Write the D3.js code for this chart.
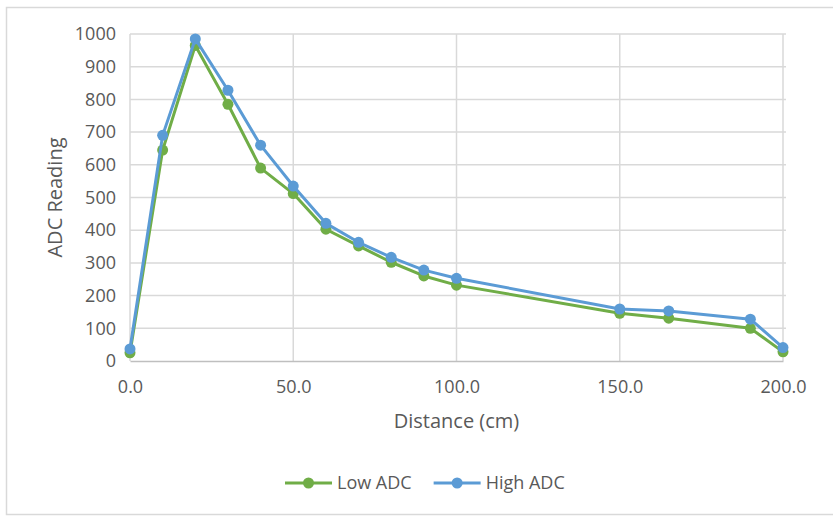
<!DOCTYPE html>
<html>
<head>
<meta charset="utf-8">
<script src="https://cdn.jsdelivr.net/npm/d3@7"></script>
<style>
  body { margin: 0; background: #fff; }
  svg { display: block; font-family: "Open Sans", sans-serif; }
</style>
</head>
<body>
<div id="chart"></div>
<script>
// Distance readings (cm) and ADC values
const distances = [0, 10, 20, 30, 40, 50, 60, 70, 80, 90, 100, 150, 165, 190, 200];
const lowAdc  = [25, 645, 965, 785, 590, 512, 403, 352, 302, 260, 232, 146, 131, 100, 28];
const highAdc = [37, 690, 985, 828, 660, 535, 421, 363, 317, 278, 253, 159, 153, 128, 41];
const xTicks = [0, 50, 100, 150, 200];
const yTicks = [0, 100, 200, 300, 400, 500, 600, 700, 800, 900, 1000];

const series = [
  { name: "Low ADC", color: "#70ad47", values: lowAdc },
  { name: "High ADC", color: "#5b9bd5", values: highAdc }
];

const width = 833, height = 516;
const plot = { left: 130, right: 783, top: 34, bottom: 361 };

const svg = d3.select("#chart").append("svg")
  .attr("width", width)
  .attr("height", height);

// chart area border
svg.append("rect")
  .attr("x", 6.5).attr("y", 7.5)
  .attr("width", 840).attr("height", 507)
  .attr("fill", "#fff")
  .attr("stroke", "#d9d9d9")
  .attr("stroke-width", 1.5);

const x = d3.scaleLinear().domain([0, 200]).range([plot.left, plot.right]);
const y = d3.scaleLinear().domain([0, 1000]).range([plot.bottom, plot.top]);

// horizontal gridlines
svg.append("g")
  .selectAll("line")
  .data(yTicks.filter(d => d > 0))
  .join("line")
  .attr("x1", plot.left).attr("x2", plot.right + 3)
  .attr("y1", d => y(d)).attr("y2", d => y(d))
  .attr("stroke", "#d9d9d9")
  .attr("stroke-width", 1.5);

// vertical gridlines
svg.append("g")
  .selectAll("line")
  .data(xTicks)
  .join("line")
  .attr("x1", d => x(d)).attr("x2", d => x(d))
  .attr("y1", plot.top).attr("y2", plot.bottom)
  .attr("stroke", "#d9d9d9")
  .attr("stroke-width", 1.5);

// x axis
const xAxis = svg.append("g")
  .attr("transform", `translate(0,${plot.bottom})`)
  .call(d3.axisBottom(x).tickValues(xTicks).tickFormat(d3.format(".1f")).tickSize(0).tickPadding(19));
xAxis.select(".domain").attr("stroke", "#bfbfbf").attr("stroke-width", 1.5);
xAxis.selectAll("text").attr("fill", "#595959").attr("font-size", 18).attr("font-family", "Open Sans");

// y axis
const yAxis = svg.append("g")
  .attr("transform", `translate(${plot.left},0)`)
  .call(d3.axisLeft(y).tickValues(yTicks).tickFormat(d3.format("d")).tickSize(0).tickPadding(14));
yAxis.select(".domain").remove();
yAxis.selectAll("text").attr("fill", "#595959").attr("font-size", 18).attr("font-family", "Open Sans");

// axis titles
svg.append("text")
  .attr("x", (plot.left + plot.right) / 2)
  .attr("y", 428)
  .attr("text-anchor", "middle")
  .attr("fill", "#595959")
  .attr("font-size", 20)
  .text("Distance (cm)");

svg.append("text")
  .attr("transform", `translate(62,${(plot.top + plot.bottom) / 2}) rotate(-90)`)
  .attr("text-anchor", "middle")
  .attr("fill", "#595959")
  .attr("font-size", 20)
  .text("ADC Reading");

// lines and markers
const line = d3.line()
  .x((d, i) => x(distances[i]))
  .y(d => y(d));

series.forEach(s => {
  const g = svg.append("g");
  g.append("path")
    .datum(s.values)
    .attr("fill", "none")
    .attr("stroke", s.color)
    .attr("stroke-width", 3)
    .attr("stroke-linejoin", "round")
    .attr("d", line);
  g.selectAll("circle")
    .data(s.values)
    .join("circle")
    .attr("cx", (d, i) => x(distances[i]))
    .attr("cy", d => y(d))
    .attr("r", 5.5)
    .attr("fill", s.color);
});

// legend
const legend = svg.append("g").attr("transform", "translate(285,483)");
let lx = 0;
series.forEach(s => {
  const item = legend.append("g").attr("transform", `translate(${lx},0)`);
  item.append("line")
    .attr("x1", 0).attr("x2", 47)
    .attr("stroke", s.color)
    .attr("stroke-width", 3);
  item.append("circle")
    .attr("cx", 23.5).attr("r", 5.5)
    .attr("fill", s.color);
  const t = item.append("text")
    .attr("x", 52)
    .attr("dy", "0.35em")
    .attr("fill", "#595959")
    .attr("font-size", 18)
    .text(s.name);
  lx += 52 + t.node().getComputedTextLength() + 22;
});
</script>
</body>
</html>
